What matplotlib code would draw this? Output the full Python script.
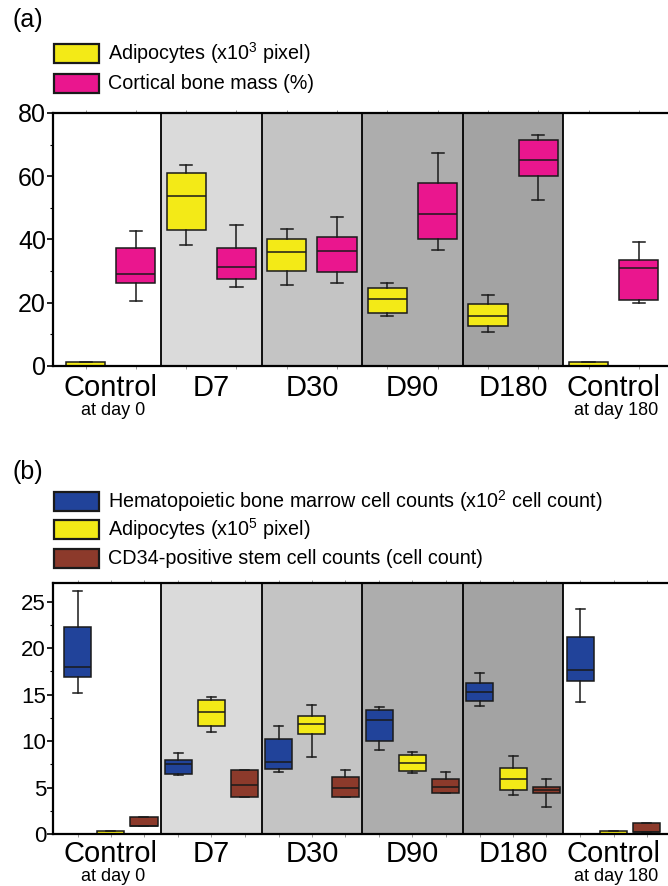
import matplotlib

matplotlib.use("Agg")
import matplotlib.pyplot as plt
from matplotlib.patches import Rectangle
from matplotlib.ticker import MultipleLocator

plt.rcParams["font.family"] = ["Liberation Sans", "DejaVu Sans"]
plt.rcParams["mathtext.fontset"] = "custom"
plt.rcParams["mathtext.rm"] = "Liberation Sans"
plt.rcParams["mathtext.default"] = "regular"

GROUPS = ["Control", "D7", "D30", "D90", "D180", "Control"]
SUBLABELS = ["at day 0", "", "", "", "", "at day 180"]

# five-number summaries: whisker low, Q1, median, Q3, whisker high
A_ADIPOCYTES = [
    (0.0, 0.0, 0.0, 1.2, 1.2),
    (38.2, 43.0, 53.8, 61.1, 63.6),
    (25.4, 30.0, 35.9, 40.2, 43.3),
    (15.7, 16.6, 21.0, 24.6, 26.1),
    (10.6, 12.5, 15.8, 19.4, 22.5),
    (0.0, 0.0, 0.0, 1.2, 1.2),
]
A_CORTICAL = [
    (20.5, 26.3, 28.9, 37.2, 42.6),
    (25.0, 27.6, 31.2, 37.2, 44.4),
    (26.3, 29.7, 36.4, 40.7, 47.2),
    (36.5, 40.2, 48.1, 57.9, 67.3),
    (52.3, 60.0, 65.0, 71.4, 73.1),
    (20.0, 20.9, 30.9, 33.4, 39.1),
]
B_HEMATO = [
    (15.2, 16.9, 18.0, 22.3, 26.1),
    (6.4, 6.45, 7.5, 8.0, 8.7),
    (6.7, 7.0, 7.8, 10.25, 11.6),
    (9.1, 10.0, 12.3, 13.4, 13.7),
    (13.8, 14.3, 15.3, 16.3, 17.3),
    (14.2, 16.5, 17.7, 21.2, 24.2),
]
B_ADIPOCYTES = [
    (0.0, 0.0, 0.0, 0.4, 0.4),
    (11.0, 11.6, 13.1, 14.4, 14.8),
    (8.3, 10.75, 11.8, 12.7, 13.9),
    (6.6, 6.85, 7.7, 8.5, 8.85),
    (4.2, 4.8, 5.9, 7.1, 8.45),
    (0.0, 0.0, 0.0, 0.4, 0.4),
]
B_CD34 = [
    (0.9, 0.9, 0.9, 1.9, 1.9),
    (4.0, 4.0, 5.3, 6.9, 6.9),
    (4.0, 4.0, 5.0, 6.2, 6.9),
    (4.4, 4.4, 5.1, 5.95, 6.7),
    (2.9, 4.4, 4.8, 5.1, 5.9),
    (0.3, 0.3, 0.3, 1.2, 1.2),
]

LEGEND_A = ["Adipocytes (x10$^{3}$ pixel)", "Cortical bone mass (%)"]
LEGEND_B = [
    "Hematopoietic bone marrow cell counts (x10$^{2}$ cell count)",
    "Adipocytes (x10$^{5}$ pixel)",
    "CD34-positive stem cell counts (cell count)",
]

YELLOW = "#f3ea17"
PINK = "#ea168e"
BLUE = "#21439a"
BROWN = "#8c3a2b"
SHADES = ["white", "#dadada", "#c4c4c4", "#adadad", "#a3a3a3", "white"]

W, H = 668, 886


def to_stats(rows):
    return [
        {"whislo": lo, "q1": q1, "med": med, "q3": q3, "whishi": hi, "fliers": []}
        for lo, q1, med, q3, hi in rows
    ]


def draw_panel(ax, series, colors, offsets, width, capwidth, ymax, major, minor, ticksize, sub_y):
    for i, shade in enumerate(SHADES):
        ax.axvspan(i, i + 1, color=shade, zorder=0, lw=0)
    for i in range(1, len(GROUPS)):
        ax.axvline(i, color="black", lw=1.3, zorder=1)

    all_pos = []
    for rows, color, off in zip(series, colors, offsets):
        pos = [i + off for i in range(len(rows))]
        all_pos += pos
        ax.bxp(
            to_stats(rows),
            positions=pos,
            widths=width,
            capwidths=capwidth,
            patch_artist=True,
            showfliers=False,
            manage_ticks=False,
            boxprops=dict(facecolor=color, edgecolor="#1a1a1a", linewidth=1.1),
            medianprops=dict(color="#1a1a1a", linewidth=1.1),
            whiskerprops=dict(color="#1a1a1a", linewidth=1.1),
            capprops=dict(color="#1a1a1a", linewidth=1.1),
        )

    ax.set_xlim(-0.074, 6.07)
    ax.set_ylim(0, ymax)
    ax.set_xticks(sorted(all_pos))
    ax.tick_params(axis="x", which="both", top=True, bottom=True, direction="out",
                   length=2.5, width=0.6, color="#888888", labelbottom=False)
    ax.yaxis.set_major_locator(MultipleLocator(major))
    ax.yaxis.set_minor_locator(MultipleLocator(minor))
    ax.tick_params(axis="y", which="major", length=4, width=1.2, pad=1, labelsize=ticksize)
    ax.tick_params(axis="y", which="minor", length=2.5, width=0.8)
    for sp in ax.spines.values():
        sp.set_linewidth(1.6)

    trans = ax.get_xaxis_transform()
    for i, (name, sub) in enumerate(zip(GROUPS, SUBLABELS)):
        ax.text(i + 0.5, sub_y[0], name, transform=trans, ha="center", va="baseline", fontsize=21)
        if sub:
            ax.text(i + 0.52, sub_y[1], sub, transform=trans, ha="center", va="baseline", fontsize=13)


def legend(fig, entries, colors, y_centers):
    for label, color, yc in zip(entries, colors, y_centers):
        fig.add_artist(Rectangle((54 / W, 1 - (yc + 9.5) / H), 45 / W, 19 / H,
                                 transform=fig.transFigure, facecolor=color,
                                 edgecolor="#1a1a1a", linewidth=1.6))
        fig.text(108 / W, 1 - yc / H, label, ha="left", va="center", fontsize=14.2)


fig = plt.figure(figsize=(W / 100, H / 100), dpi=100)

ax_a = fig.add_axes([53 / W, 1 - 365.7 / H, 618 / W, 252.7 / H])
draw_panel(ax_a, [A_ADIPOCYTES, A_CORTICAL], [YELLOW, PINK], [0.25, 0.75],
           0.39, 0.12, 80, 20, 10, 18, (-0.12, -0.197))

ax_b = fig.add_axes([53 / W, 1 - 834.3 / H, 618 / W, 251.3 / H])
draw_panel(ax_b, [B_HEMATO, B_ADIPOCYTES, B_CD34], [BLUE, YELLOW, BROWN], [0.17, 0.5, 0.83],
           0.27, 0.09, 27, 5, 2.5, 16, (-0.11, -0.186))

fig.text(12 / W, 1 - 20 / H, "(a)", ha="left", va="center", fontsize=18)
fig.text(12 / W, 1 - 472 / H, "(b)", ha="left", va="center", fontsize=18)
legend(fig, LEGEND_A, [YELLOW, PINK], [53.5, 83.5])
legend(fig, LEGEND_B, [BLUE, YELLOW, BROWN], [501, 529.5, 558.5])

fig.savefig("out.png", dpi=100)
plt.close(fig)
